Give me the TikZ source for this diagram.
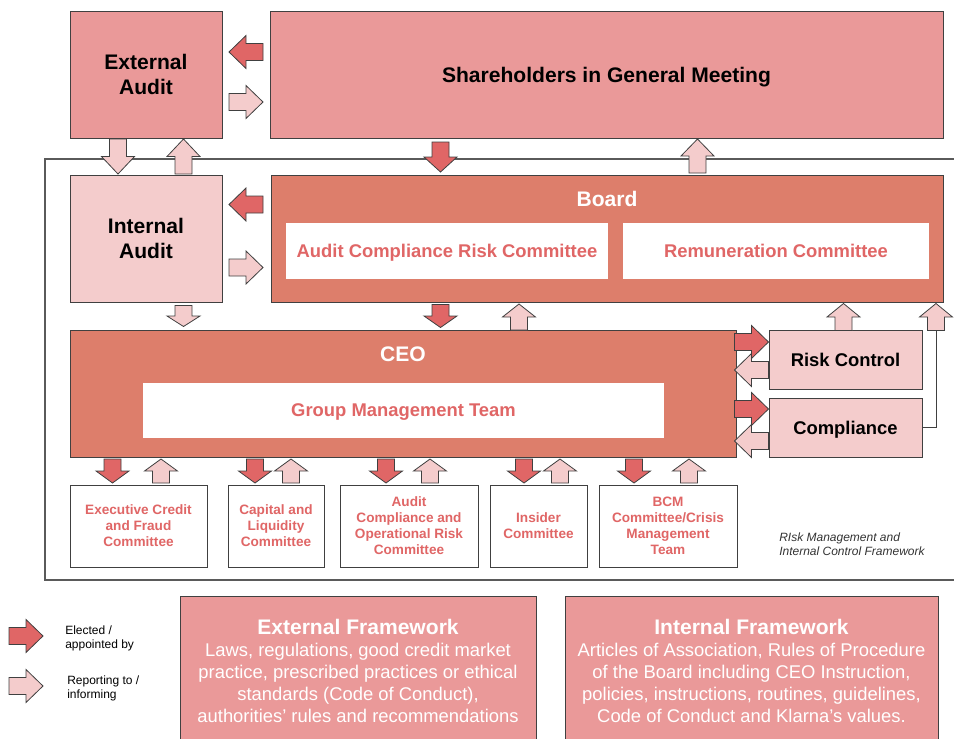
\documentclass[tikz,border=0pt]{standalone}
\usepackage{fontspec}
\setmainfont{Liberation Sans}
\definecolor{salmon}{HTML}{EA9999}
\definecolor{boardc}{HTML}{DD7E6B}
\definecolor{pinkl}{HTML}{F4CCCC}
\definecolor{redd}{HTML}{E06666}
\definecolor{edgec}{HTML}{404040}
\definecolor{framec}{HTML}{5A5A5A}
\definecolor{notec}{HTML}{333333}
% block arrow: fill, x, y, angle, length
\newcommand\barr[5]{\draw[arrowline,fill=#1,shift={(#2,#3)},rotate=#4] ({-#5/2},-8.5) -- (0,-8.5) -- (0,-16.5) -- ({#5/2},0) -- (0,16.5) -- (0,8.5) -- ({-#5/2},8.5) -- cycle;}
\tikzset{
  box/.style={draw=edgec,line width=0.7pt,inner sep=0pt,align=center},
  arrowline/.style={draw=edgec,line width=0.6pt,line join=miter},
  bigt/.style={font=\fontsize{15.8pt}{18.5pt}\selectfont\bfseries},
  midt/.style={font=\fontsize{13.8pt}{16pt}\selectfont\bfseries},
  comt/.style={font=\fontsize{10.2pt}{12pt}\selectfont\bfseries,text=redd},
  frt/.style={font=\fontsize{13.8pt}{16.5pt}\selectfont,text=white,align=center},
  legt/.style={font=\fontsize{9pt}{10.5pt}\selectfont,align=left,anchor=west,inner sep=0pt},
}
\begin{document}
\begin{tikzpicture}[x=0.75pt,y=-0.75pt]
\useasboundingbox (0,0) rectangle (954,739);
% frame lines
\draw[framec,line width=0.8pt] (954,159) -- (45,159) -- (45,580) -- (954,580);
% top row
\node[box,fill=salmon,minimum width=114pt,minimum height=95.25pt,bigt] (ea) at (146,74.5) {External\\Audit};
\node[box,fill=salmon,minimum width=504.75pt,minimum height=95.25pt,bigt,text depth=0pt] (sh) at (606.5,74.5) {Shareholders in General Meeting};
% second row
\node[box,fill=pinkl,minimum width=114pt,minimum height=95.25pt,bigt] (ia) at (146,238.5) {Internal\\Audit};
\node[box,fill=boardc,minimum width=504pt,minimum height=95.25pt] (board) at (607,238.5) {};
\node[bigt,text=white,inner sep=0pt] (boardt) at (607,199) {Board};
\node[fill=white,inner sep=0pt,minimum width=241.5pt,minimum height=42pt,midt,text=redd,text depth=0pt] (acrc) at (447,251) {Audit Compliance Risk Committee};
\node[fill=white,inner sep=0pt,minimum width=229.5pt,minimum height=42pt,midt,text=redd,text depth=0pt] (rem) at (776,251) {Remuneration Committee};
% CEO row
\node[box,fill=boardc,minimum width=499.5pt,minimum height=95.25pt] (ceo) at (403,393.5) {};
\node[bigt,text=white,inner sep=0pt] (ceot) at (403,354) {CEO};
\node[fill=white,inner sep=0pt,minimum width=390.75pt,minimum height=41.25pt,midt,text=redd,text depth=0pt] (gmt) at (403.5,410.5) {Group Management Team};
\node[box,fill=pinkl,minimum width=114.75pt,minimum height=44.25pt,midt] (rc) at (845.5,359.5) {Risk Control};
\node[box,fill=pinkl,minimum width=114.75pt,minimum height=44.25pt,midt,text depth=0pt] (comp) at (845.5,427.5) {Compliance};
% committees
\node[box,fill=white,minimum width=102.75pt,minimum height=61.5pt,comt] (c1) at (138.5,526) {Executive Credit\\and Fraud\\Committee};
\node[box,fill=white,minimum width=72pt,minimum height=61.5pt,comt] (c2) at (276,526) {Capital and\\Liquidity\\Committee};
\node[box,fill=white,minimum width=103.5pt,minimum height=61.5pt,comt] (c3) at (409,526) {Audit\\Compliance and\\Operational Risk\\Committee};
\node[box,fill=white,minimum width=72.75pt,minimum height=61.5pt,comt] (c4) at (538.5,526) {Insider\\Committee};
\node[box,fill=white,minimum width=103.5pt,minimum height=61.5pt,comt] (c5) at (668,526) {BCM\\Committee/Crisis\\Management\\Team};
\node[legt,text=notec,font=\fontsize{9pt}{10.8pt}\selectfont\itshape] (note) at (779,544) {RIsk Management and\\Internal Control Framework};
% compliance line to board
\coordinate (cl1) at (936,427.5);
\coordinate (cl2) at (936,330);
\draw[edgec,line width=0.7pt] (comp.east) -- (cl1) -- (cl2);
% arrows top
\barr{redd}{246}{52}{180}{34}
\barr{pinkl}{246}{102}{0}{34}
\barr{pinkl}{118}{156.5}{-90}{35}
\barr{pinkl}{183.5}{156.5}{90}{35}
\barr{redd}{246}{204.5}{180}{34}
\barr{pinkl}{246}{267.5}{0}{34}
\barr{redd}{440.5}{157}{-90}{30}
\barr{pinkl}{697.5}{156}{90}{34}
% arrows to CEO row
\barr{pinkl}{183.5}{316}{-90}{21}
\barr{redd}{440.5}{316}{-90}{23}
\barr{pinkl}{519}{317}{90}{26}
\barr{pinkl}{843.5}{317}{90}{27}
\barr{pinkl}{936}{317}{90}{27}
\barr{redd}{751.5}{342}{0}{34}
\barr{pinkl}{751.5}{370}{180}{34}
\barr{redd}{751.5}{409}{0}{34}
\barr{pinkl}{751.5}{441}{180}{34}
% committee arrows
\barr{redd}{112.5}{471}{-90}{24}
\barr{pinkl}{161}{471}{90}{24}
\barr{redd}{255}{471}{-90}{24}
\barr{pinkl}{291}{471}{90}{24}
\barr{redd}{386}{471}{-90}{24}
\barr{pinkl}{430}{471}{90}{24}
\barr{redd}{524}{471}{-90}{24}
\barr{pinkl}{560}{471}{90}{24}
\barr{redd}{634}{471}{-90}{24}
\barr{pinkl}{689}{471}{90}{24}
% legend
\barr{redd}{26}{636}{0}{34}
\barr{pinkl}{26}{686}{0}{34}
\node[legt] (l1) at (65,638) {Elected /\\appointed by};
\node[legt] (l2) at (67,688) {Reporting to /\\informing};
% frameworks
\draw[edgec,line width=0.7pt,fill=salmon] (180,596) rectangle (536,760);
\draw[edgec,line width=0.7pt,fill=salmon] (565,596) rectangle (938,760);
\node[bigt,text=white,inner sep=0pt] (eft) at (358,627) {External Framework};
\node[frt,inner sep=0pt,anchor=north] (efb) at (358,642.5) {Laws, regulations, good credit market\\practice, prescribed practices or ethical\\standards (Code of Conduct),\\authorities’ rules and recommendations};
\node[bigt,text=white,inner sep=0pt] (ift) at (751.5,627) {Internal Framework};
\node[frt,inner sep=0pt,anchor=north] (ifb) at (751.5,642.5) {Articles of Association, Rules of Procedure\\of the Board including CEO Instruction,\\policies, instructions, routines, guidelines,\\Code of Conduct and Klarna’s values.};
\end{tikzpicture}
\end{document}
